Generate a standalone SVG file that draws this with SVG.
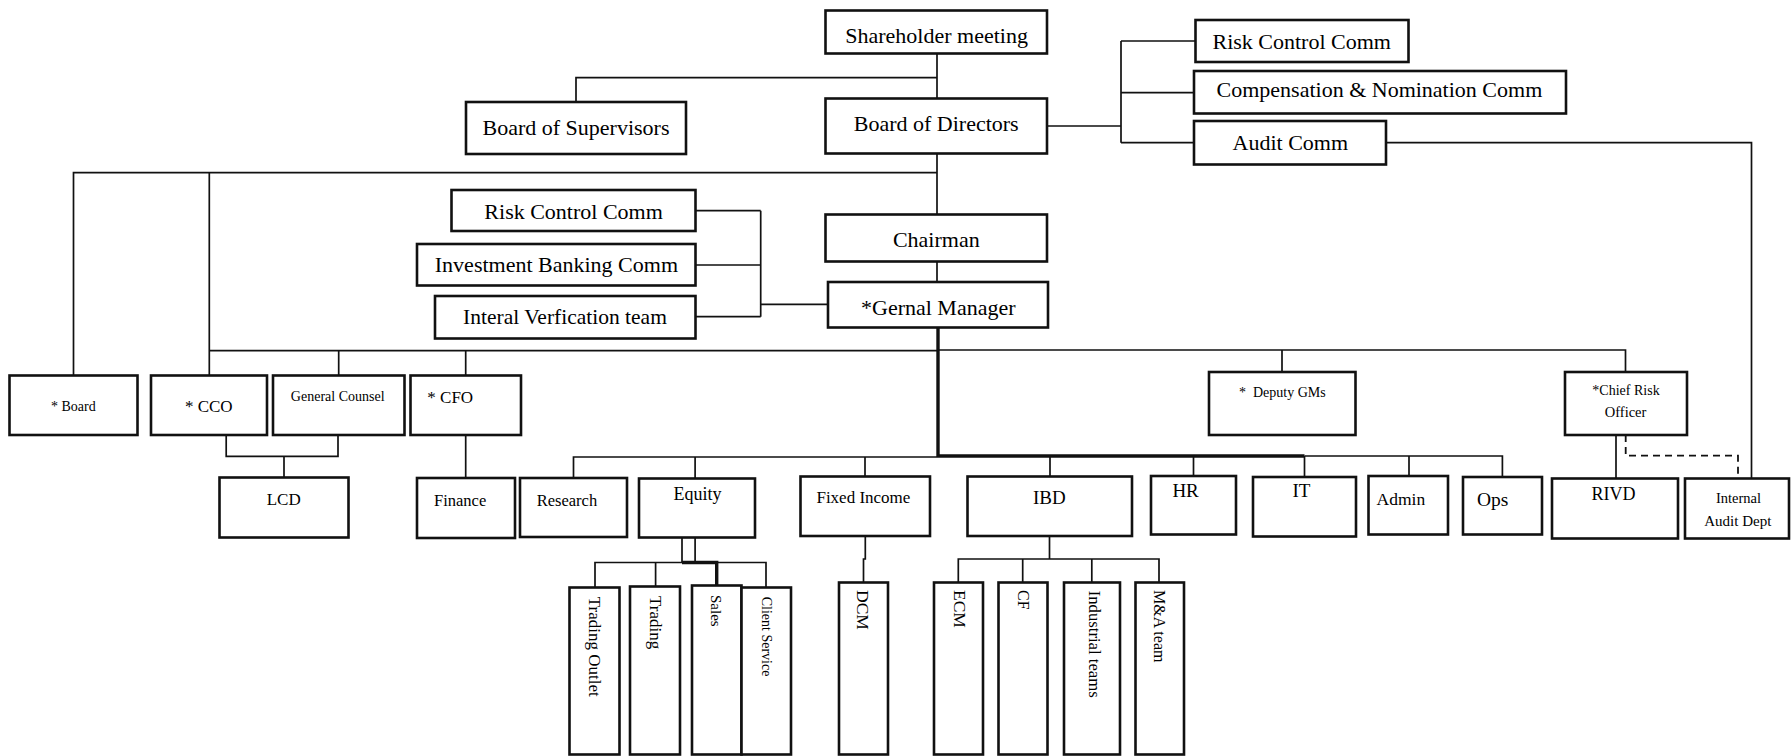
<svg xmlns="http://www.w3.org/2000/svg" width="1791" height="756" viewBox="0 0 1791 756">
<style>
  .bg { fill: #ffffff; }
  .box { fill: #ffffff; stroke: #111111; stroke-width: 2.6; }
  .ln { fill: none; stroke: #111111; stroke-width: 1.7; }
  .thick { fill: none; stroke: #111111; stroke-width: 3.4; }
  .dash { fill: none; stroke: #111111; stroke-width: 1.8; stroke-dasharray: 7 5; }
  text { font-family: "Liberation Serif", "Times New Roman", serif; fill: #000000; }
  .t22 { font-size: 22px; text-anchor: middle; }
  .m { text-anchor: middle; }
  .s { text-anchor: start; }
  .v { dominant-baseline: central; text-anchor: start; }
</style>
<rect class="bg" x="0" y="0" width="1791" height="756"/>

<g id="connectors">
  <path class="ln" d="M576,102 V77.7 H937"/>
  <path class="ln" d="M937,53.7 V98.5"/>
  <path class="ln" d="M937,153.7 V214.5"/>
  <path class="ln" d="M73.5,375.5 V172.7 H937"/>
  <path class="ln" d="M209.3,172.7 V375.5"/>
  <path class="ln" d="M937,261.5 V282"/>
  <path class="thick" d="M938,327.5 V457"/>
  <path class="ln" d="M209.3,350.7 H938"/>
  <path class="ln" d="M938,350 H1625.5 V372"/>
  <path class="ln" d="M338.7,350.7 V375.5 M465.7,350.7 V375.5 M1282,350 V372"/>
  <path class="ln" d="M1047,126 H1121 M1121,41 V142.7 M1121,41 H1195.5 M1121,92.7 H1194 M1121,142.7 H1194"/>
  <path class="ln" d="M1386.3,142.7 H1751.5 V478.5"/>
  <path class="ln" d="M695.7,210.7 H760.7 M695.7,265 H760.7 M695.7,316.7 H760.7 M760.7,210.7 V316.7 M760.7,304.3 H828"/>
  <path class="ln" d="M226.2,435 V456.3 H338 V435 M284,456.3 V477.5"/>
  <path class="ln" d="M465.7,435 V478"/>
  <path class="ln" d="M573.5,478 V457 H938"/>
  <path class="thick" d="M938,456 H1304.5"/>
  <path class="ln" d="M1304.5,456 H1502.4 V477"/>
  <path class="ln" d="M695.1,457 V478.5 M865,457 V476.5 M1050,457 V476.5 M1193.5,456 V476 M1304.5,456 V477 M1409,456 V476"/>
  <path class="ln" d="M682,537.7 V562.5 M695.1,537.7 V562.5"/>
  <path class="ln" d="M595,587.5 V562.5 H766 V587.5 M655.6,562.5 V586.5"/>
  <path class="thick" d="M682,562.5 H716.7 V585.5"/>
  <path class="ln" d="M865.3,536 V559 H863.5 V582.5"/>
  <path class="ln" d="M1049.5,536 V559 M958.3,582.5 V559 H1159 V582.5 M1022.7,559 V582.5 M1091.8,559 V582.5"/>
  <path class="ln" d="M1616,435 V478.5"/>
  <path class="dash" d="M1625.7,435 V455.7 H1738 V478.5"/>
</g>

<g id="shareholder"><rect class="box" x="825.5" y="10.5" width="221.5" height="43"/><text class="t22" x="936.6" y="43">Shareholder meeting</text></g>
<g id="board-of-directors"><rect class="box" x="825.5" y="98.5" width="221.5" height="55"/><text class="t22" x="936.2" y="130.5">Board of Directors</text></g>
<g id="board-of-supervisors"><rect class="box" x="466" y="102" width="220" height="52"/><text class="t22" x="576" y="135">Board of Supervisors</text></g>
<g id="chairman"><rect class="box" x="825.5" y="214.5" width="221.5" height="47"/><text class="t22" x="936.3" y="246.7">Chairman</text></g>
<g id="general-manager"><rect class="box" x="828" y="282" width="220" height="45.5"/><text class="t22" x="938.3" y="315">*Gernal Manager</text></g>

<g id="risk-control-comm-left"><rect class="box" x="451.5" y="190" width="244" height="41"/><text class="t22" x="573.6" y="218.5">Risk Control Comm</text></g>
<g id="investment-banking-comm"><rect class="box" x="417" y="244" width="278.5" height="41.5"/><text class="t22" x="556.4" y="272">Investment Banking Comm</text></g>
<g id="interal-verfication-team"><rect class="box" x="435" y="296" width="260.5" height="42.5"/><text class="t22" x="565" y="324" style="font-size:21.5px">Interal Verfication team</text></g>

<g id="risk-control-comm-right"><rect class="box" x="1195.5" y="20" width="213" height="42"/><text class="t22" x="1301.7" y="49.3">Risk Control Comm</text></g>
<g id="compensation-nomination-comm"><rect class="box" x="1194" y="71" width="372" height="42.5"/><text class="t22" x="1379.4" y="97.3">Compensation &amp; Nomination Comm</text></g>
<g id="audit-comm"><rect class="box" x="1194" y="121" width="192" height="43.5"/><text class="t22" x="1290.3" y="150">Audit Comm</text></g>

<g id="board"><rect class="box" x="9.5" y="375.5" width="128" height="59.5"/><text class="m" x="73.3" y="411" style="font-size:14px">* Board</text></g>
<g id="cco"><rect class="box" x="151" y="375.5" width="116" height="59.5"/><text class="m" x="208.8" y="411.7" style="font-size:17px">* CCO</text></g>
<g id="general-counsel"><rect class="box" x="273" y="375.5" width="131.5" height="59.5"/><text class="m" x="337.7" y="400.7" style="font-size:14px">General Counsel</text></g>
<g id="cfo"><rect class="box" x="410.5" y="375.5" width="110.5" height="59.5"/><text class="s" x="427.3" y="403.3" style="font-size:17px">* CFO</text></g>
<g id="deputy-gms"><rect class="box" x="1209" y="372" width="146.5" height="63"/><text class="s" x="1239" y="396.7" style="font-size:14px" xml:space="preserve">*  Deputy GMs</text></g>
<g id="chief-risk-officer"><rect class="box" x="1565" y="372" width="122" height="63"/><text class="m" x="1626" y="395" style="font-size:14px">*Chief Risk</text><text class="m" x="1625.6" y="417.3" style="font-size:14.5px">Officer</text></g>

<g id="lcd"><rect class="box" x="219.5" y="477.5" width="129" height="60"/><text class="m" x="283.7" y="505" style="font-size:17px">LCD</text></g>
<g id="finance"><rect class="box" x="417" y="478" width="98" height="60"/><text class="s" x="434" y="505.7" style="font-size:16.5px">Finance</text></g>
<g id="research"><rect class="box" x="520" y="478" width="107" height="59"/><text class="s" x="536.7" y="505.7" style="font-size:16.5px">Research</text></g>
<g id="equity"><rect class="box" x="639" y="478.5" width="116" height="59"/><text class="m" x="697.5" y="500" style="font-size:18px">Equity</text></g>
<g id="fixed-income"><rect class="box" x="800.5" y="476.5" width="129.5" height="59.5"/><text class="m" x="863.4" y="503.3" style="font-size:17px">Fixed Income</text></g>
<g id="ibd"><rect class="box" x="967.5" y="476.5" width="164.5" height="59.5"/><text class="m" x="1049.4" y="504" style="font-size:19px">IBD</text></g>
<g id="hr"><rect class="box" x="1151" y="476" width="85" height="58.5"/><text class="s" x="1172.4" y="497.3" style="font-size:19px">HR</text></g>
<g id="it"><rect class="box" x="1253" y="477" width="103" height="59.5"/><text class="m" x="1301.5" y="496.7" style="font-size:19px">IT</text></g>
<g id="admin"><rect class="box" x="1368.5" y="476" width="79.5" height="58.5"/><text class="s" x="1376.6" y="505" style="font-size:17.5px">Admin</text></g>
<g id="ops"><rect class="box" x="1463" y="477" width="79" height="57.5"/><text class="s" x="1477" y="506" style="font-size:19.5px">Ops</text></g>
<g id="rivd"><rect class="box" x="1552" y="478.5" width="126" height="60"/><text class="m" x="1613.4" y="500" style="font-size:18px">RIVD</text></g>
<g id="internal-audit-dept"><rect class="box" x="1685" y="478.5" width="104" height="60"/><text class="m" x="1738.5" y="503.3" style="font-size:14.5px">Internal</text><text class="m" x="1737.8" y="526" style="font-size:15px">Audit Dept</text></g>

<g id="trading-outlet"><rect class="box" x="569.5" y="587.5" width="50" height="167"/><text class="v" transform="translate(594.5,596.7) rotate(90)" style="font-size:17px">Trading Outlet</text></g>
<g id="trading"><rect class="box" x="630" y="586.5" width="50" height="168"/><text class="v" transform="translate(655,596) rotate(90)" style="font-size:17px">Trading</text></g>
<g id="sales"><rect class="box" x="692" y="585.5" width="49.5" height="169"/><text class="v" transform="translate(716,595) rotate(90)" style="font-size:15px">Sales</text></g>
<g id="client-service"><rect class="box" x="741.5" y="587.5" width="49.5" height="167"/><text class="v" transform="translate(766.3,596.7) rotate(90)" style="font-size:14px">Client Service</text></g>
<g id="dcm"><rect class="box" x="839" y="582.5" width="49" height="172"/><text class="v" transform="translate(863.3,590) rotate(90)" style="font-size:17.5px">DCM</text></g>
<g id="ecm"><rect class="box" x="934" y="582.5" width="49" height="172"/><text class="v" transform="translate(959.5,590) rotate(90)" style="font-size:17.5px">ECM</text></g>
<g id="cf"><rect class="box" x="998.5" y="582.5" width="49" height="172"/><text class="v" transform="translate(1023,590) rotate(90)" style="font-size:16px">CF</text></g>
<g id="industrial-teams"><rect class="box" x="1064" y="582.5" width="56" height="172"/><text class="v" transform="translate(1094,590.7) rotate(90)" style="font-size:16.7px">Industrial teams</text></g>
<g id="ma-team"><rect class="box" x="1135.5" y="582.5" width="48.5" height="172"/><text class="v" transform="translate(1159.8,590) rotate(90)" style="font-size:16px">M&amp;A team</text></g>
</svg>
